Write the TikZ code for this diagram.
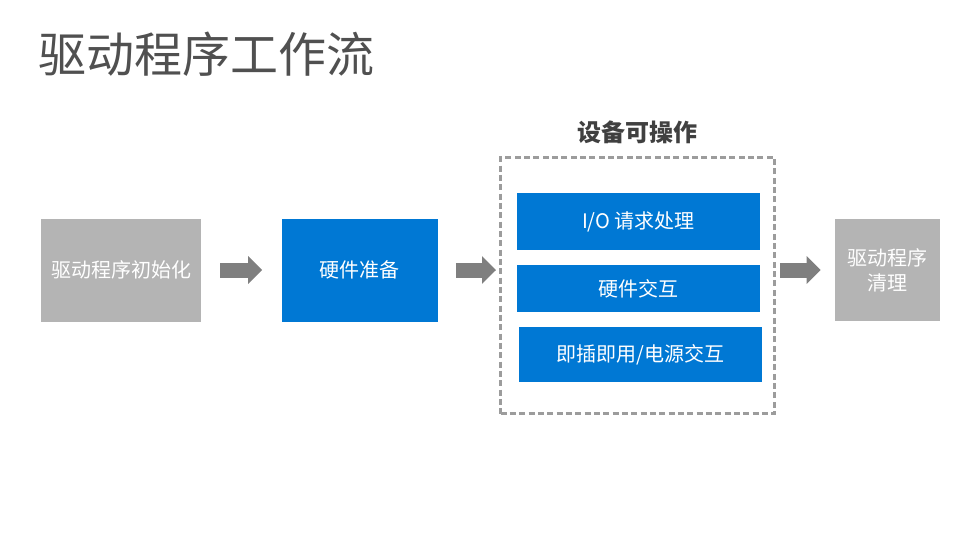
\documentclass[tikz,border=0pt]{standalone}
\usepackage{fontspec}
\newfontfamily\cjk{Noto Sans CJK SC}
\usetikzlibrary{arrows.meta}
\definecolor{boxblue}{HTML}{0078D4}
\definecolor{boxgray}{HTML}{B4B4B4}
\definecolor{arrowgray}{HTML}{7F7F7F}
\definecolor{dashgray}{HTML}{9C9C9C}
\definecolor{titlegray}{HTML}{505050}
\definecolor{subgray}{HTML}{404040}
\begin{document}
\begin{tikzpicture}[x=0.75pt,y=-0.75pt,
  every node/.style={font=\cjk},
  blockbox/.style={draw=none,inner sep=0pt,text=white,font=\cjk\fontsize{15pt}{19pt}\selectfont,align=center},
  bluebox/.style={blockbox,fill=boxblue},
  graybox/.style={blockbox,fill=boxgray},
  flowarrow/.style={draw=arrowgray,line width=11.25pt,-{Triangle[length=10.5pt,width=20.25pt]}},
  groupbox/.style={draw=dashgray,line width=2.2pt,dash pattern=on 4.5pt off 2.5pt}]
\useasboundingbox (0,0) rectangle (979,551);
% title
\node[anchor=west,text=titlegray,font=\cjk\fontsize{36pt}{40pt}\selectfont,inner sep=0pt] (title) at (38,54) {驱动程序工作流};
% boxes
\node[graybox,minimum width=120pt,minimum height=77.25pt] (init) at (121,270) {驱动程序初始化};
\node[bluebox,minimum width=117pt,minimum height=77.25pt] (prep) at (359.5,270) {硬件准备};
\node[groupbox,minimum width=205.5pt,minimum height=192pt,inner sep=0pt] (group) at (637.5,285.5) {};
\node[text=subgray,font=\cjk\fontsize{18pt}{22pt}\selectfont\bfseries,inner sep=0pt] (grouplabel) at (637.5,132) {设备可操作};
\node[bluebox,minimum width=182.25pt,minimum height=42.75pt] (io) at (638.5,221.5) {I/O 请求处理};
\node[bluebox,minimum width=182.25pt,minimum height=35.25pt] (hw) at (638.5,288.5) {硬件交互};
\node[bluebox,minimum width=182.25pt,minimum height=41.25pt] (pnp) at (640.5,354.5) {即插即用/电源交互};
\node[graybox,minimum width=78.75pt,minimum height=76.5pt] (clean) at (887.5,270) {驱动程序\\清理};
% arrows
\draw[flowarrow,shorten <=14.25pt,shorten >=14.25pt] (init.east) -- (prep.west);
\draw[flowarrow,shorten <=13.5pt,shorten >=2.25pt] (prep.east |- 0,270) -- (group.west |- 0,270);
\draw[flowarrow,shorten <=3pt,shorten >=10.5pt] (group.east |- 0,270) -- (clean.west);
\end{tikzpicture}
\end{document}
